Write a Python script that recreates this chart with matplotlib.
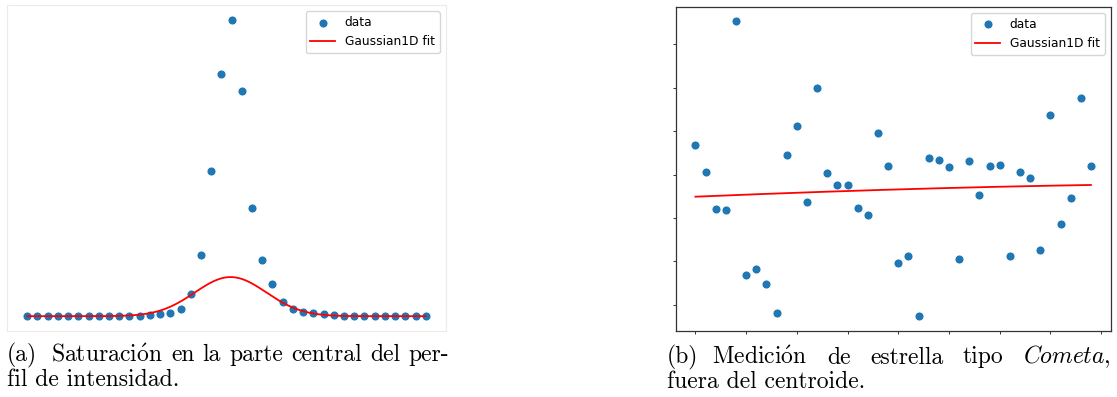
import numpy as np
import matplotlib
matplotlib.use("Agg")
import matplotlib.pyplot as plt

plt.rcParams["font.family"] = ["cmr10", "DejaVu Serif"]
plt.rcParams["mathtext.fontset"] = "cm"
plt.rcParams["axes.unicode_minus"] = False

# ---- data -------------------------------------------------------------
pixel = np.arange(40)

# (a) saturated intensity profile and its Gaussian1D fit
profile_a = [0, 0, 0, 0, 0, 0, 0, 0, 0, 0,
             0, 2, 3, 6, 10, 22, 66, 185, 438, 730,
             894, 678, 326, 170, 98, 44, 22, 14, 10, 6,
             4, 2, 0, 0, 0, 0, 0, 0, 0, 0]
fit_a = {"amplitude": 118.0, "mean": 19.9, "stddev": 3.5}

# (b) off-centroid measurement of a comet-type star and its Gaussian1D fit
profile_b = [3.68, 3.07, 2.20, 2.18, 6.53, 0.68, 0.82, 0.48, -0.18, 3.46,
             4.12, 2.36, 4.99, 3.03, 2.77, 2.77, 2.24, 2.06, 3.96, 3.19,
             0.96, 1.12, -0.26, 3.38, 3.33, 3.18, 1.05, 3.32, 2.53, 3.19,
             3.22, 1.12, 3.07, 2.93, 1.25, 4.38, 1.86, 2.46, 4.77, 3.19]
fit_b = {"amplitude": 2.80, "mean": 60.0, "stddev": 123.8}

caption_a = [["(a)", r"Saturaci$\acute{\mathrm{o}}$n", "en", "la", "parte",
              "central", "del", "per-"],
             ["fil de intensidad."]]
caption_b = [["(b)", r"Medici$\acute{\mathrm{o}}$n", "de", "estrella", "tipo",
              r"$\mathit{Cometa}$,"],
             ["fuera del centroide."]]


def gaussian1d(x, amplitude, mean, stddev):
    return amplitude * np.exp(-0.5 * ((x - mean) / stddev) ** 2)


# ---- figure -------------------------------------------------------------
W, H = 1117, 397
fig = plt.figure(figsize=(W / 100, H / 100), dpi=100)


def px_axes(x0, y0, x1, y1):
    return fig.add_axes([x0 / W, 1 - y1 / H, (x1 - x0) / W, (y1 - y0) / H])


ax_a = px_axes(7.3, 5.0, 445.7, 331.0)
ax_b = px_axes(675.7, 6.7, 1110.7, 330.7)

xfine = np.linspace(pixel[0], pixel[-1], 400)
legend_font = {"family": "DejaVu Sans", "size": 8.8}

for ax, prof, fit in ((ax_a, profile_a, fit_a), (ax_b, profile_b, fit_b)):
    sc = ax.scatter(pixel, prof, s=42, color="#1f77b4", edgecolor="white",
                    linewidth=0.6, label="data", zorder=2)
    ln, = ax.plot(xfine, gaussian1d(xfine, **fit), color="red", lw=1.3,
                  label="Gaussian1D fit", zorder=3)
    ax.legend(handles=[sc, ln], loc="upper right", prop=legend_font)

# panel (a): bare, faint frame
ax_a.set_xticks([])
ax_a.set_yticks([])
for sp in ax_a.spines.values():
    sp.set_color("#ebebeb")
    sp.set_linewidth(0.8)

# panel (b): dark frame, unlabeled ticks
ax_b.set_xticks(np.arange(0, 41, 5))
ax_b.set_yticks(np.arange(0, 7, 1))
ax_b.tick_params(labelbottom=False, labelleft=False, length=2.0, width=0.7,
                 color="#333333")
for sp in ax_b.spines.values():
    sp.set_color("#333333")
    sp.set_linewidth(0.9)

# ---- captions -------------------------------------------------------------
CAP_SIZE = 17.0
renderer = fig.canvas.get_renderer()


def text_width(s):
    t = fig.text(0, 0, s, fontsize=CAP_SIZE)
    w = t.get_window_extent(renderer).width
    t.remove()
    return w


def justified(words, x0, x1, baseline, label_gap=14.0):
    widths = [text_width(w) for w in words]
    free = (x1 - x0) - sum(widths) - label_gap
    gap = free / (len(words) - 2)
    x = x0
    for i, (w, wd) in enumerate(zip(words, widths)):
        fig.text(x / W, 1 - baseline / H, w, fontsize=CAP_SIZE,
                 va="baseline", ha="left")
        x += wd + (label_gap if i == 0 else gap)


def plain(s, x0, baseline):
    fig.text(x0 / W, 1 - baseline / H, s, fontsize=CAP_SIZE,
             va="baseline", ha="left")


justified(caption_a[0], 7.0, 449.0, 361.0)
plain(caption_a[1][0], 7.0, 386.0)
justified(caption_b[0], 667.0, 1111.0, 363.5)
plain(caption_b[1][0], 667.0, 388.5)

fig.savefig("out.png", dpi=100)
